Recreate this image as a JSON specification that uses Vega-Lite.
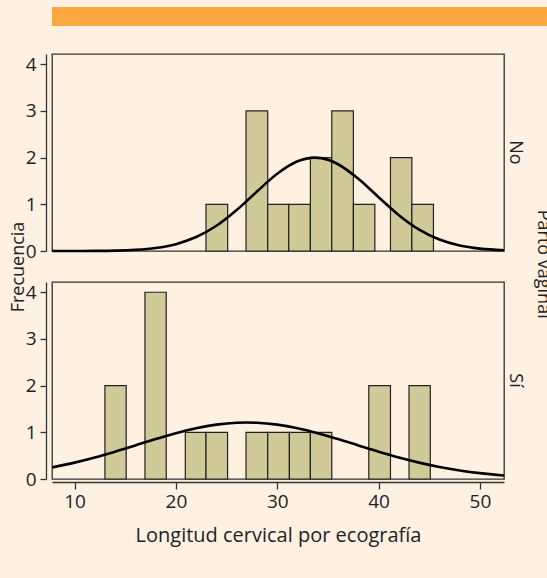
{
  "$schema": "https://vega.github.io/schema/vega-lite/v6.json",
  "background": "#FEF1E2",
  "padding": {"left": 9, "top": 7, "right": 0, "bottom": 33},
  "datasets": {
    "band": [{"band": "top"}],
    "hist": [
      {"kind": "bar", "parto": "No", "x": 22.97, "x1": 25.11, "y": 1},
      {"kind": "bar", "parto": "No", "x": 26.92, "x1": 29.06, "y": 3},
      {"kind": "bar", "parto": "No", "x": 29.06, "x1": 31.14, "y": 1},
      {"kind": "bar", "parto": "No", "x": 31.14, "x1": 33.27, "y": 1},
      {"kind": "bar", "parto": "No", "x": 33.27, "x1": 35.38, "y": 2},
      {"kind": "bar", "parto": "No", "x": 35.38, "x1": 37.51, "y": 3},
      {"kind": "bar", "parto": "No", "x": 37.51, "x1": 39.63, "y": 1},
      {"kind": "bar", "parto": "No", "x": 41.17, "x1": 43.28, "y": 2},
      {"kind": "bar", "parto": "No", "x": 43.28, "x1": 45.41, "y": 1},
      {"kind": "bar", "parto": "Sí", "x": 13.0, "x1": 15.1, "y": 2},
      {"kind": "bar", "parto": "Sí", "x": 16.95, "x1": 19.05, "y": 4},
      {"kind": "bar", "parto": "Sí", "x": 20.93, "x1": 22.97, "y": 1},
      {"kind": "bar", "parto": "Sí", "x": 22.97, "x1": 25.1, "y": 1},
      {"kind": "bar", "parto": "Sí", "x": 26.92, "x1": 29.06, "y": 1},
      {"kind": "bar", "parto": "Sí", "x": 29.06, "x1": 31.2, "y": 1},
      {"kind": "bar", "parto": "Sí", "x": 31.2, "x1": 33.27, "y": 1},
      {"kind": "bar", "parto": "Sí", "x": 33.27, "x1": 35.38, "y": 1},
      {"kind": "bar", "parto": "Sí", "x": 39.03, "x1": 41.17, "y": 2},
      {"kind": "bar", "parto": "Sí", "x": 43.0, "x1": 45.1, "y": 2},
      {"kind": "curve", "parto": "No", "x": 7.8, "y": 0.0002},
      {"kind": "curve", "parto": "No", "x": 10, "y": 0.0008},
      {"kind": "curve", "parto": "No", "x": 12, "y": 0.003},
      {"kind": "curve", "parto": "No", "x": 14, "y": 0.009},
      {"kind": "curve", "parto": "No", "x": 16, "y": 0.026},
      {"kind": "curve", "parto": "No", "x": 18, "y": 0.065},
      {"kind": "curve", "parto": "No", "x": 20, "y": 0.147},
      {"kind": "curve", "parto": "No", "x": 22, "y": 0.299},
      {"kind": "curve", "parto": "No", "x": 24, "y": 0.541},
      {"kind": "curve", "parto": "No", "x": 26, "y": 0.878},
      {"kind": "curve", "parto": "No", "x": 28, "y": 1.274},
      {"kind": "curve", "parto": "No", "x": 30, "y": 1.654},
      {"kind": "curve", "parto": "No", "x": 32, "y": 1.921},
      {"kind": "curve", "parto": "No", "x": 33.7, "y": 2.0},
      {"kind": "curve", "parto": "No", "x": 35, "y": 1.954},
      {"kind": "curve", "parto": "No", "x": 36, "y": 1.858},
      {"kind": "curve", "parto": "No", "x": 38, "y": 1.547},
      {"kind": "curve", "parto": "No", "x": 40, "y": 1.153},
      {"kind": "curve", "parto": "No", "x": 42, "y": 0.768},
      {"kind": "curve", "parto": "No", "x": 44, "y": 0.458},
      {"kind": "curve", "parto": "No", "x": 46, "y": 0.245},
      {"kind": "curve", "parto": "No", "x": 48, "y": 0.117},
      {"kind": "curve", "parto": "No", "x": 50, "y": 0.05},
      {"kind": "curve", "parto": "No", "x": 52.37, "y": 0.015},
      {"kind": "curve", "parto": "Sí", "x": 7.8, "y": 0.249},
      {"kind": "curve", "parto": "Sí", "x": 10, "y": 0.351},
      {"kind": "curve", "parto": "Sí", "x": 12, "y": 0.461},
      {"kind": "curve", "parto": "Sí", "x": 14, "y": 0.586},
      {"kind": "curve", "parto": "Sí", "x": 16, "y": 0.72},
      {"kind": "curve", "parto": "Sí", "x": 18, "y": 0.855},
      {"kind": "curve", "parto": "Sí", "x": 20, "y": 0.981},
      {"kind": "curve", "parto": "Sí", "x": 22, "y": 1.087},
      {"kind": "curve", "parto": "Sí", "x": 24, "y": 1.164},
      {"kind": "curve", "parto": "Sí", "x": 26, "y": 1.205},
      {"kind": "curve", "parto": "Sí", "x": 27, "y": 1.21},
      {"kind": "curve", "parto": "Sí", "x": 28, "y": 1.205},
      {"kind": "curve", "parto": "Sí", "x": 30, "y": 1.164},
      {"kind": "curve", "parto": "Sí", "x": 32, "y": 1.087},
      {"kind": "curve", "parto": "Sí", "x": 34, "y": 0.981},
      {"kind": "curve", "parto": "Sí", "x": 36, "y": 0.855},
      {"kind": "curve", "parto": "Sí", "x": 38, "y": 0.72},
      {"kind": "curve", "parto": "Sí", "x": 40, "y": 0.586},
      {"kind": "curve", "parto": "Sí", "x": 42, "y": 0.461},
      {"kind": "curve", "parto": "Sí", "x": 44, "y": 0.351},
      {"kind": "curve", "parto": "Sí", "x": 46, "y": 0.258},
      {"kind": "curve", "parto": "Sí", "x": 48, "y": 0.183},
      {"kind": "curve", "parto": "Sí", "x": 50, "y": 0.125},
      {"kind": "curve", "parto": "Sí", "x": 52.37, "y": 0.076}
    ]
  },
  "spacing": 27,
  "columns": 1,
  "align": "none",
  "center": true,
  "concat": [
    {
      "data": {"name": "band"},
      "width": 538,
      "height": 19,
      "view": {"stroke": null},
      "mark": {"type": "rect", "color": "#F9A73E"},
      "encoding": {}
    },
    {
      "data": {"name": "hist"},
      "title": {
        "text": "Parto vaginal",
        "orient": "right",
        "angle": 90,
        "anchor": "middle",
        "font": "Open Sans",
        "fontSize": 18,
        "fontWeight": "normal",
        "color": "#222",
        "offset": 10,
        "dx": -35
      },
      "facet": {
        "row": {
          "field": "parto",
          "type": "nominal",
          "title": "Frecuencia",
          "sort": ["No", "Sí"],
          "header": {
            "labelOrient": "right",
            "titleOrient": "left",
            "labelAngle": 90,
            "titleAngle": -90,
            "labelPadding": -4,
            "titlePadding": -31,
            "labelFontSize": 18,
            "titleFontSize": 18,
            "labelFont": "Open Sans",
            "titleFont": "Open Sans",
            "titleFontWeight": "normal",
            "labelColor": "#222",
            "titleColor": "#222"
          }
        }
      },
      "spacing": {"row": 24},
      "spec": {
        "width": 452,
        "height": 197,
        "view": {"stroke": "#333", "strokeWidth": 1.3},
        "layer": [
          {
            "transform": [{"filter": "datum.kind == 'bar'"}],
            "mark": {"type": "rect", "fill": "#CFCA97", "stroke": "#222", "strokeWidth": 1.2},
            "encoding": {
              "x": {
                "field": "x",
                "type": "quantitative",
                "title": "Longitud cervical por ecografía",
                "scale": {"domain": [7.78, 52.37], "nice": false, "zero": false},
                "axis": {"values": [10, 20, 30, 40, 50], "tickSize": 7, "labelPadding": 3, "titlePadding": 14, "titleFontSize": 20}
              },
              "x2": {"field": "x1"},
              "y": {
                "field": "y",
                "type": "quantitative",
                "title": null,
                "scale": {"domain": [0, 4.22], "nice": false},
                "axis": {"values": [0, 1, 2, 3, 4], "tickSize": 6, "labelPadding": 4}
              },
              "y2": {"datum": 0}
            }
          },
          {
            "transform": [{"filter": "datum.kind == 'curve'"}],
            "mark": {"type": "line", "color": "#000", "strokeWidth": 2.6, "interpolate": "monotone"},
            "encoding": {
              "x": {"field": "x", "type": "quantitative"},
              "y": {"field": "y", "type": "quantitative"}
            }
          }
        ]
      }
    }
  ],
  "config": {
    "font": "Open Sans",
    "view": {"stroke": null},
    "axis": {
      "labelFont": "Open Sans",
      "titleFont": "Open Sans",
      "labelFontSize": 19,
      "titleFontSize": 19,
      "titleFontWeight": "normal",
      "labelColor": "#222",
      "titleColor": "#222",
      "domainColor": "#333",
      "domainWidth": 1.3,
      "tickColor": "#333",
      "tickWidth": 1.3,
      "grid": false
    }
  }
}
